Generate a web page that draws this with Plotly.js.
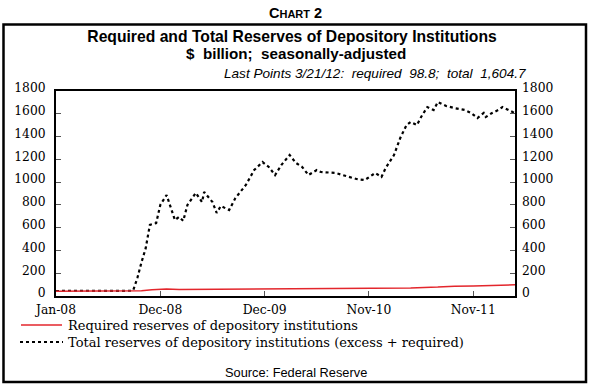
<!DOCTYPE html>
<html>
<head>
<meta charset="utf-8">
<script src="https://cdn.plot.ly/plotly-3.0.1.min.js"></script>
<style>
  html, body { margin: 0; padding: 0; background: #fff; }
  #chart { width: 591px; height: 385px; }
</style>
</head>
<body>
<div id="chart"></div>
<script>
// ---- Data ($ billion, weekly H.3 data) ----
const totalDates = [
  '2008-01-02','2008-04-02','2008-07-02','2008-09-10','2008-09-17','2008-10-01','2008-10-15','2008-10-29',
  '2008-11-12','2008-12-03','2008-12-17','2009-01-07','2009-02-04','2009-02-18','2009-03-04','2009-03-18',
  '2009-04-15','2009-05-06','2009-05-13','2009-06-10','2009-06-24','2009-07-08','2009-08-05','2009-08-26',
  '2009-09-30','2009-10-28','2009-11-25','2009-12-16','2010-01-06','2010-01-27','2010-02-24','2010-03-17',
  '2010-04-07','2010-04-28','2010-05-26','2010-06-09','2010-07-28','2010-09-01','2010-10-06','2010-11-03',
  '2010-12-08','2010-12-29','2011-01-12','2011-02-09','2011-03-02','2011-03-23','2011-04-06','2011-04-27',
  '2011-05-11','2011-06-01','2011-06-22','2011-07-06','2011-08-03','2011-08-31','2011-10-05','2011-10-26',
  '2011-11-16','2011-12-07','2011-12-14','2012-01-04','2012-01-25','2012-02-08','2012-02-29','2012-03-21'
];
const totalValues = [
  44, 43, 44, 46, 50, 158, 298, 420,
  625, 640, 800, 887, 667, 694, 660, 800,
  905, 825, 913, 825, 730, 790, 755, 860,
  975, 1106, 1176, 1133, 1062, 1150, 1238, 1168,
  1133, 1062, 1106, 1089, 1080, 1054, 1027, 1018,
  1080, 1045, 1124, 1238, 1387, 1501, 1528, 1501,
  1572, 1659, 1633, 1703, 1668, 1650, 1633, 1607,
  1563, 1607, 1572, 1607, 1633, 1659, 1633, 1604.7
];
const requiredDates = [
  '2008-01-02','2008-04-02','2008-07-02','2008-09-10','2008-10-15','2008-11-19','2008-12-17','2009-01-07',
  '2009-02-18','2009-06-03','2009-10-07','2010-02-03','2010-06-02','2010-10-06','2011-01-05','2011-04-06',
  '2011-07-06','2011-08-31','2011-11-02','2012-01-04','2012-03-21'
];
const requiredValues = [
  42, 42, 42, 43, 47, 55, 58, 62,
  58, 60, 62, 64, 64, 65, 68, 71,
  78, 86, 88, 92, 98.8
];
const xTickDates = ['2008-01-02','2008-12-17','2009-12-02','2010-11-17','2011-11-02'];
const xTickLabels = ['Jan-08','Dec-08','Dec-09','Nov-10','Nov-11'];
const yTickValues = [0,200,400,600,800,1000,1200,1400,1600,1800];
const yTickLabels = ['0','200','400','600','800','1000','1200','1400','1600','1800'];
const seriesNames = [
  'Required reserves of depository institutions',
  'Total reserves of depository institutions (excess + required)'
];

// ---- Styling ----
const serif = 'DejaVu Serif, Liberation Serif, serif';
const sans = 'Liberation Sans, Arial, sans-serif';
const RED = '#e3262c';

// paper-coordinate helpers for the framing (plot area 56..515 x, 91..296 y)
const px = v => (v - 56) / 459;
const py = v => (296 - v) / 205;

const traces = [
  {
    x: totalDates, y: totalValues, type: 'scatter', mode: 'lines',
    name: seriesNames[1], yaxis: 'y',
    line: { color: '#000', width: 2.2, dash: '3px,3px' },
    hoverinfo: 'skip'
  },
  {
    x: requiredDates, y: requiredValues, type: 'scatter', mode: 'lines',
    name: seriesNames[0], yaxis: 'y2',
    line: { color: RED, width: 1.5 },
    hoverinfo: 'skip'
  }
];

const tickFont = { family: serif, size: 12.3, color: '#000' };

const layout = {
  width: 591, height: 385,
  margin: { l: 56, r: 76, t: 91, b: 89, pad: 0 },
  paper_bgcolor: '#fff', plot_bgcolor: '#fff',
  showlegend: false,
  title: {
    text: '<b>Required and Total Reserves of Depository Institutions</b>',
    font: { family: sans, size: 15.7, color: '#000' },
    xref: 'paper', x: px(292), xanchor: 'center',
    yref: 'container', y: 1 - 37 / 385, yanchor: 'middle'
  },
  xaxis: {
    type: 'date',
    range: ['2008-01-02', '2012-03-21'],
    tickvals: xTickDates, ticktext: xTickLabels,
    ticks: 'inside', ticklen: 5, tickwidth: 1, tickcolor: '#555',
    showline: true, linecolor: '#000', linewidth: 2, mirror: true,
    showgrid: false, zeroline: false,
    tickfont: tickFont, ticklabelstandoff: 1
  },
  yaxis: {
    range: [0, 1800], tickvals: yTickValues, ticktext: yTickLabels,
    ticks: 'inside', ticklen: 5, tickwidth: 1, tickcolor: '#555',
    showline: true, linecolor: '#000', linewidth: 2, mirror: true,
    showgrid: false, zeroline: false,
    tickfont: tickFont, ticklabelstandoff: 6, ticklabelshift: -3
  },
  yaxis2: {
    range: [0, 1800], tickvals: yTickValues, ticktext: yTickLabels,
    overlaying: 'y', side: 'right',
    ticks: 'inside', ticklen: 5, tickwidth: 1, tickcolor: '#555',
    showline: false, showgrid: false, zeroline: false,
    tickfont: tickFont, ticklabelstandoff: 6, ticklabelshift: -3
  },
  shapes: [
    // outer frame
    { type: 'rect', xref: 'paper', yref: 'paper',
      x0: px(3.5), x1: px(586), y0: py(382), y1: py(24.5),
      line: { color: '#000', width: 2.5 }, fillcolor: 'rgba(0,0,0,0)', layer: 'below' },
    // legend samples
    { type: 'line', xref: 'paper', yref: 'paper',
      x0: px(21), x1: px(62), y0: py(325), y1: py(325),
      line: { color: RED, width: 1.5 } },
    { type: 'line', xref: 'paper', yref: 'paper',
      x0: px(20), x1: px(63), y0: py(342), y1: py(342),
      line: { color: '#000', width: 2.2, dash: '3px,3px' } }
  ],
  annotations: [
    { text: '<b>C<span style="font-size:11px">HART</span> 2</b>',
      xref: 'paper', yref: 'paper', x: px(295), y: py(13),
      xanchor: 'center', yanchor: 'middle', showarrow: false,
      font: { family: sans, size: 14.5, color: '#000' } },
    { text: '<b>$  billion;  seasonally-adjusted</b>',
      xref: 'paper', yref: 'paper', x: px(296), y: py(53),
      xanchor: 'center', yanchor: 'middle', showarrow: false,
      font: { family: sans, size: 15.2, color: '#000' } },
    { text: '<i>Last Points 3/21/12:  required  98.8;  total  1,604.7</i>',
      xref: 'paper', yref: 'paper', x: px(528), y: py(74),
      xanchor: 'right', yanchor: 'middle', showarrow: false,
      font: { family: sans, size: 13.6, color: '#000' } },
    { text: seriesNames[0],
      xref: 'paper', yref: 'paper', x: px(66), y: py(325),
      xanchor: 'left', yanchor: 'middle', showarrow: false,
      font: { family: serif, size: 13, color: '#000' } },
    { text: seriesNames[1],
      xref: 'paper', yref: 'paper', x: px(66), y: py(342),
      xanchor: 'left', yanchor: 'middle', showarrow: false,
      font: { family: serif, size: 13, color: '#000' } },
    { text: 'Source: Federal Reserve',
      xref: 'paper', yref: 'paper', x: px(295.5), y: py(372),
      xanchor: 'center', yanchor: 'middle', showarrow: false,
      font: { family: sans, size: 12.8, color: '#000' } }
  ]
};

Plotly.newPlot('chart', traces, layout, { staticPlot: true, displayModeBar: false });
</script>
</body>
</html>
